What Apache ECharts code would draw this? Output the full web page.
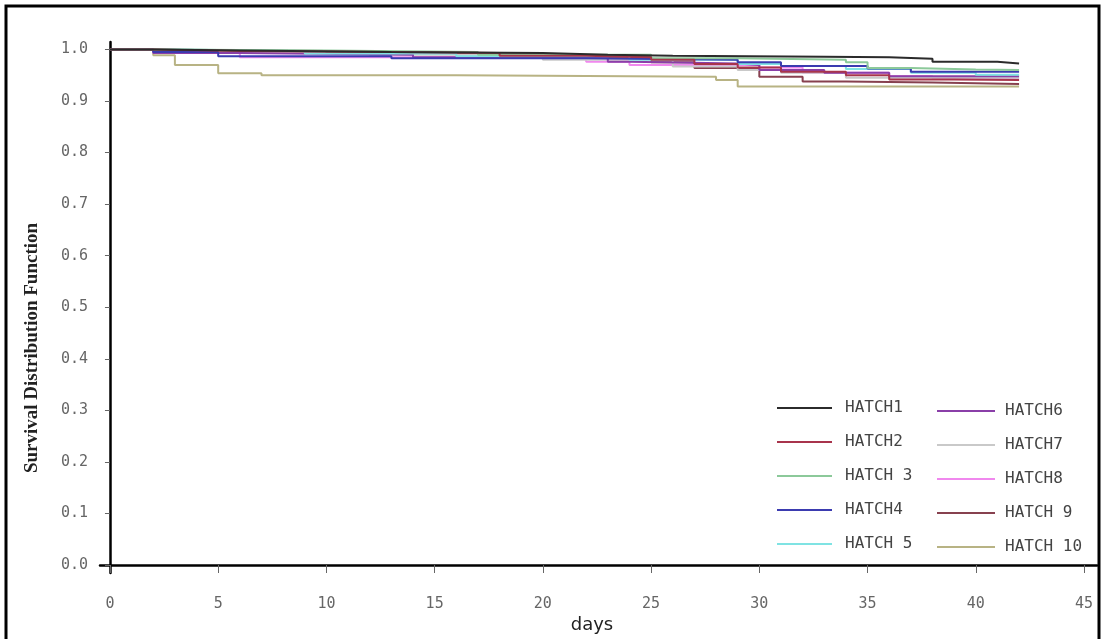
<!DOCTYPE html>
<html>
<head>
<meta charset="utf-8">
<script src="https://cdn.jsdelivr.net/npm/echarts@6/dist/echarts.min.js"></script>
<style>
  html, body { margin: 0; padding: 0; background: #fff; }
  #chart { width: 1105px; height: 639px; }
</style>
</head>
<body>
<div id="chart"></div>
<script>
// tick labels
const dayTicks = [0, 5, 10, 15, 20, 25, 30, 35, 40, 45]
const survTicks = [0, 0.1, 0.2, 0.3, 0.4, 0.5, 0.6, 0.7, 0.8, 0.9, 1.0]

// legend names
const hatchNames = ['HATCH1', 'HATCH2', 'HATCH 3', 'HATCH4', 'HATCH 5',
  'HATCH6', 'HATCH7', 'HATCH8', 'HATCH 9', 'HATCH 10']
const hatchColors = ['#2b2b2b', '#a8344c', '#8cc99a', '#3b3bb0', '#7fe3e3',
  '#8a3fa8', '#c9c9c9', '#f088ee', '#87414f', '#b8b384']

// [day, survival] – survival holds from that day on (Kaplan-Meier steps)
const hatch1 = [[0, 1], [2, 0.998], [6, 0.995], [13, 0.993], [20, 0.99], [23, 0.988], [26, 0.986], [33, 0.985], [36, 0.982], [38, 0.976], [41, 0.973], [42, 0.973]]
const hatch2 = [[0, 1], [2, 0.997], [6, 0.995], [13, 0.993], [18, 0.988], [22, 0.985], [25, 0.98], [27, 0.972], [29, 0.965], [31, 0.957], [34, 0.95], [36, 0.942], [39, 0.941], [42, 0.941]]
const hatch3 = [[0, 1], [2, 0.998], [10, 0.995], [17, 0.99], [25, 0.983], [29, 0.98], [34, 0.975], [35, 0.964], [37, 0.961], [40, 0.96], [42, 0.96]]
const hatch4 = [[0, 1], [2, 0.995], [5, 0.987], [13, 0.983], [22, 0.98], [29, 0.975], [31, 0.968], [35, 0.963], [37, 0.957], [42, 0.957]]
const hatch5 = [[0, 1], [3, 0.997], [9, 0.992], [16, 0.987], [24, 0.98], [29, 0.972], [31, 0.968], [34, 0.962], [37, 0.955], [40, 0.951], [42, 0.951]]
const hatch6 = [[0, 1], [2, 0.993], [6, 0.99], [14, 0.985], [23, 0.976], [24, 0.973], [29, 0.97], [30, 0.96], [33, 0.955], [36, 0.948], [42, 0.948]]
const hatch7 = [[0, 1], [3, 0.996], [12, 0.99], [20, 0.98], [26, 0.967], [29, 0.96], [31, 0.955], [34, 0.945], [42, 0.945]]
const hatch8 = [[0, 1], [2, 0.993], [6, 0.985], [22, 0.976], [24, 0.97], [30, 0.965], [32, 0.955], [36, 0.948], [38, 0.944], [42, 0.944]]
const hatch9 = [[0, 1], [2, 0.997], [10, 0.993], [20, 0.985], [25, 0.975], [27, 0.964], [30, 0.947], [32, 0.938], [34, 0.936], [38, 0.933], [42, 0.933]]
const hatch10 = [[0, 1], [2, 0.989], [3, 0.97], [5, 0.954], [7, 0.95], [16, 0.947], [28, 0.941], [29, 0.928], [42, 0.928]]

const hatchData = [hatch1, hatch2, hatch3, hatch4, hatch5, hatch6, hatch7, hatch8, hatch9, hatch10]

const chart = echarts.init(document.getElementById('chart'))

let seriesList = []
for (let i = 0; i < hatchData.length; i++) {
  seriesList.push({
    name: hatchNames[i],
    type: 'line',
    step: 'end',
    symbol: 'none',
    data: hatchData[i],
    lineStyle: { width: 2, color: hatchColors[i] },
    itemStyle: { color: hatchColors[i] },
    z: 10 - i
  })
}

const legendText = {
  fontFamily: 'DejaVu Sans Mono',
  fontSize: 16,
  lineHeight: 16,
  color: '#444'
}

let option = {
  animation: false,
  grid: { left: 100, right: 8, top: 42, bottom: 66 },
  graphic: [
    {
      type: 'rect',
      shape: { x: 6, y: 6, width: 1093, height: 660 },
      style: { fill: 'none', stroke: '#000', lineWidth: 3 }
    },
    {
      type: 'text',
      x: 32, y: 348,
      rotation: Math.PI / 2,
      style: {
        text: 'Survival Distribution Function',
        fontFamily: 'Liberation Serif',
        fontWeight: 'bold',
        fontSize: 19,
        fill: '#222',
        align: 'center',
        verticalAlign: 'middle'
      }
    },
    {
      type: 'text',
      x: 592, y: 625,
      style: {
        text: 'days',
        fontFamily: 'DejaVu Sans',
        fontSize: 18,
        fill: '#222',
        align: 'center',
        verticalAlign: 'middle'
      }
    }
  ],
  legend: [
    {
      orient: 'vertical',
      left: 772, top: 395,
      icon: 'rect',
      itemWidth: 55, itemHeight: 2,
      itemGap: 18,
      textStyle: Object.assign({ padding: [0, 0, 0, 8] }, legendText),
      data: hatchNames.slice(0, 5)
    },
    {
      orient: 'vertical',
      left: 932, top: 398,
      icon: 'rect',
      itemWidth: 58, itemHeight: 2,
      itemGap: 18,
      textStyle: Object.assign({ padding: [0, 0, 0, 5] }, legendText),
      data: hatchNames.slice(5)
    }
  ],
  xAxis: {
    type: 'value',
    min: -0.46,
    max: 45.6,
    splitLine: { show: false },
    axisLine: { lineStyle: { color: '#000', width: 2.5 } },
    axisTick: { length: 8, customValues: dayTicks, lineStyle: { color: '#666' } },
    axisLabel: {
      customValues: dayTicks,
      margin: 24,
      fontFamily: 'DejaVu Sans Mono',
      fontSize: 15,
      color: '#666'
    }
  },
  yAxis: {
    type: 'value',
    min: -0.0155,
    max: 1.0145,
    splitLine: { show: false },
    axisLine: { show: true, lineStyle: { color: '#000', width: 2.5 } },
    axisTick: { show: true, length: 5, customValues: survTicks, lineStyle: { color: '#666' } },
    axisLabel: {
      customValues: survTicks,
      margin: 12,
      fontFamily: 'DejaVu Sans Mono',
      fontSize: 15,
      color: '#666',
      formatter: v => v.toFixed(1)
    }
  },
  series: seriesList
}
chart.setOption(option)
</script>
</body>
</html>
